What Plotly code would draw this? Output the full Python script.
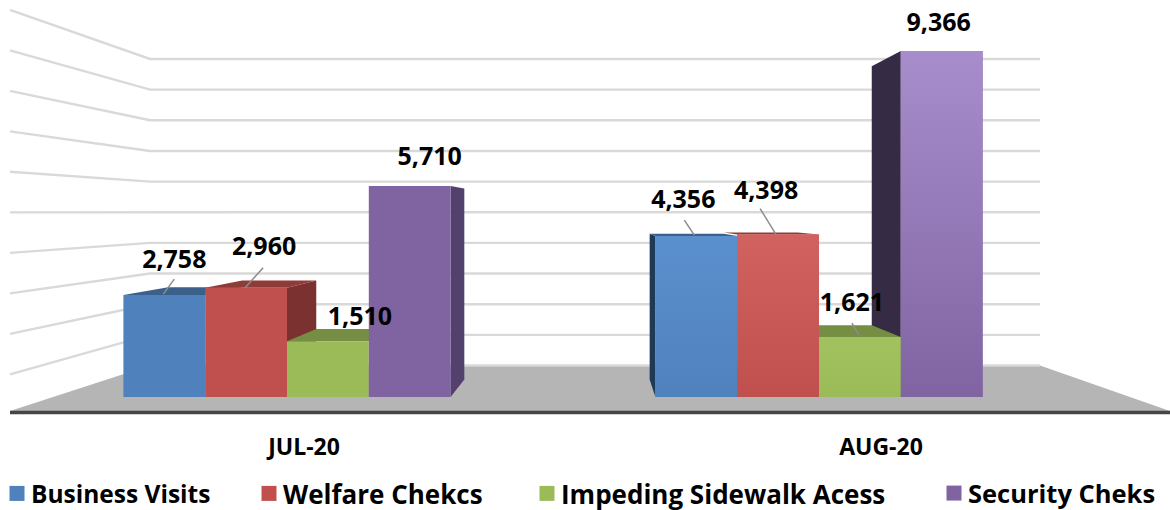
import plotly.graph_objects as go

# ---- data ----
months = ["JUL-20", "AUG-20"]
series_names = ["Business Visits", "Welfare Chekcs", "Impeding Sidewalk Acess", "Security Cheks"]
business_visits = [2758, 4356]
welfare_checks = [2960, 4398]
impeding_sidewalk = [1510, 1621]
security_checks = [5710, 9366]
series_values = [business_visits, welfare_checks, impeding_sidewalk, security_checks]
wall_ticks = [0, 1000, 2000, 3000, 4000, 5000, 6000, 7000, 8000, 9000, 10000]

# ---- style ----
front = ["#4F81BD", "#C0504D", "#9BBB59", "#8064A2"]
front_top_aug = ["#5B90CE", "#D2625F", "#A2C15F", "#A88DCC"]
top_face = ["#3B608C", "#8F3B39", "#768E43", "#5F4B79"]
side_face = [["#1F3A56", "#7B3130", "#5F7A36", "#53406C"],
             ["#1F3A56", "#7B3130", "#5F7A36", "#352B45"]]
FONT = "Open Sans"
W, H, AXIS_PX = 1170, 510, 416
PX_PER_UNIT = 0.03694
BASE_PX = 397
def val(py):            # pixel row -> value on the front plane
    return (BASE_PX - py) / PX_PER_UNIT

group_center = [287, 819]
bar_w = 81.8
VP_X, VP_V = 595, val(212)
BACK = 0.905            # bar rear face scale
WALL = 0.83             # back wall scale
EDGE = 1.075            # front floor edge scale
def rear(x, v, s=BACK):
    return VP_X + (x - VP_X) * s, VP_V + (v - VP_V) * s
def wall_v(v, s=WALL):
    return VP_V + (v - VP_V) * s

# label offsets from bar centre / bar-top, pixels
label_off = [[(10, -33), (18, -39), (32, -22), (20, -27)],
             [(-13, -34), (-12, -42), (-8, -32), (-3, -26)]]
leader = [[((10, -16), (-1, -1)), (( 17, -20), (-1, 0)), None, None],
          [((-12, -16), (-2, -1)), ((-18, -26), (-2, 0)), ((-8, -14), (-1, -2)), None]]

fig = go.Figure()

def poly(xs, ys, color, axis="x", line_only=False, width=0):
    fig.add_trace(go.Scatter(
        x=xs, y=ys, mode="lines", xaxis=axis, yaxis=axis.replace("x", "y"),
        fill=None if line_only else "toself",
        fillcolor=None if line_only else color,
        line=dict(color=color, width=width), hoverinfo="skip", showlegend=False))

# floor
LEFT_B, RIGHT_B, LEFT_F, RIGHT_F = 150, 1040, 10, 1170
poly([LEFT_F, LEFT_B, RIGHT_B, RIGHT_F, LEFT_F],
     [wall_v(0, EDGE), wall_v(0), wall_v(0), wall_v(0, EDGE), wall_v(0, EDGE)], "#B5B5B5")
# wall grid
for t in wall_ticks:
    xs = [LEFT_B, RIGHT_B] if t == 0 else [LEFT_F, LEFT_B, RIGHT_B]
    ys = [wall_v(t), wall_v(t)] if t == 0 else [wall_v(t, EDGE * 1.02), wall_v(t), wall_v(t)]
    poly(xs, ys, "#D9D9D9", line_only=True, width=2.4)
# axis line
poly([LEFT_F, W], [val(412.5), val(412.5)], "#454545", line_only=True, width=3.5)

# 3-D faces
for g in range(2):
    geom = [(group_center[g] + (s - 1.5) * bar_w - bar_w / 2,
             group_center[g] + (s - 1.5) * bar_w + bar_w / 2,
             series_values[s][g]) for s in range(4)]
    for s in [3, 2, 1, 0]:
        x0, x1, v = geom[s]
        xe = x1 if x1 < VP_X else x0
        if (g == 0 and s in (1, 3)) or (g == 1 and s in (0, 3)):
            xr, vr = rear(xe, v)
            xb, vb = rear(xe, 0)
            poly([xe, xr, xb, xe, xe], [v, vr, vb, 0, v], side_face[g][s])
    for s in [3, 0, 1, 2]:
        x0, x1, v = geom[s]
        if v < VP_V:        # tops above eye level are hidden
            a, va = rear(x0, v)
            b, vb = rear(x1, v)
            poly([x0, a, b, x1, x0], [v, va, vb, v, v], top_face[s])

# front faces: real bars on an overlay axis
for s, name in enumerate(series_names):
    xs = [group_center[g] + (s - 1.5) * bar_w for g in range(2)]
    fig.add_trace(go.Bar(x=xs, y=series_values[s], width=bar_w, marker=dict(color=front[s], line_width=0),
                         xaxis="x2", yaxis="y2", name=name, showlegend=False, hoverinfo="skip"))
# August gradient sheen
for s in range(4):
    c = group_center[1] + (s - 1.5) * bar_w
    v = series_values[s][1]
    fig.add_trace(go.Scatter(
        x=[c - bar_w / 2, c - bar_w / 2, c + bar_w / 2, c + bar_w / 2, c - bar_w / 2],
        y=[0, v, v, 0, 0], mode="lines", line_width=0, xaxis="x2", yaxis="y2", fill="toself",
        fillgradient=dict(type="vertical", colorscale=[[0, front[s]], [1, front_top_aug[s]]]),
        hoverinfo="skip", showlegend=False))

# leaders and labels
for g in range(2):
    for s in range(4):
        c = group_center[g] + (s - 1.5) * bar_w
        v = series_values[s][g]
        if leader[g][s]:
            (dx0, dy0), (dx1, dy1) = leader[g][s]
            top_px = BASE_PX - v * PX_PER_UNIT
            poly([c + dx0, c + dx1], [val(top_px + dy0), val(top_px + dy1)], "#8C8C8C", axis="x2", line_only=True, width=1.5)
        dx, dy = label_off[g][s]
        fig.add_trace(go.Scatter(
            x=[c + dx], y=[v - dy / PX_PER_UNIT], mode="text", text=[f"{v:,}"], textposition="middle center",
            textfont=dict(family=FONT, size=25, color="#000000", weight="bold"),
            xaxis="x2", yaxis="y2", hoverinfo="skip", showlegend=False))

# legends
legend_px = [-9, 243, 521, 928]
legend_size = [24.5, 26, 26, 25.5]
legend_names = ["legend", "legend2", "legend3", "legend4"]
legends = {}
for s, name in enumerate(series_names):
    fig.add_trace(go.Scatter(x=[None], y=[None], mode="markers", name=name, xaxis="x", yaxis="y",
                             marker=dict(symbol="square", size=15, color=front[s]), legend=legend_names[s]))
    legends[legend_names[s]] = dict(x=legend_px[s] / W, y=(AXIS_PX - 493.5) / AXIS_PX, xanchor="left", yanchor="middle",
                                    orientation="h", bgcolor="rgba(0,0,0,0)", itemclick=False, itemdoubleclick=False,
                                    font=dict(family=FONT, size=legend_size[s], color="#000000", weight="bold"))

rng = [val(AXIS_PX), val(0)]
fig.update_layout(
    width=W, height=H, paper_bgcolor="white", plot_bgcolor="white", barmode="overlay",
    margin=dict(l=0, r=0, t=0, b=H - AXIS_PX, pad=0, autoexpand=False),
    xaxis=dict(range=[0, W], showgrid=False, zeroline=False, showline=False, ticks="outside", ticklen=10,
               tickcolor="rgba(0,0,0,0)", tickvals=[304, 881], ticktext=months,
               tickfont=dict(family=FONT, size=23, color="#000000", weight="bold")),
    yaxis=dict(range=rng, showgrid=False, zeroline=False, showticklabels=False, ticks=""),
    xaxis2=dict(range=[0, W], overlaying="x", visible=False),
    yaxis2=dict(range=rng, overlaying="y", visible=False),
    **legends,
)
fig.write_html("out.html", config=dict(displayModeBar=False),
               post_script="document.body.style.margin='0';"
                           "document.querySelectorAll('.legendsymbols').forEach(function(g){g.setAttribute('transform','translate(6,0)');});")
